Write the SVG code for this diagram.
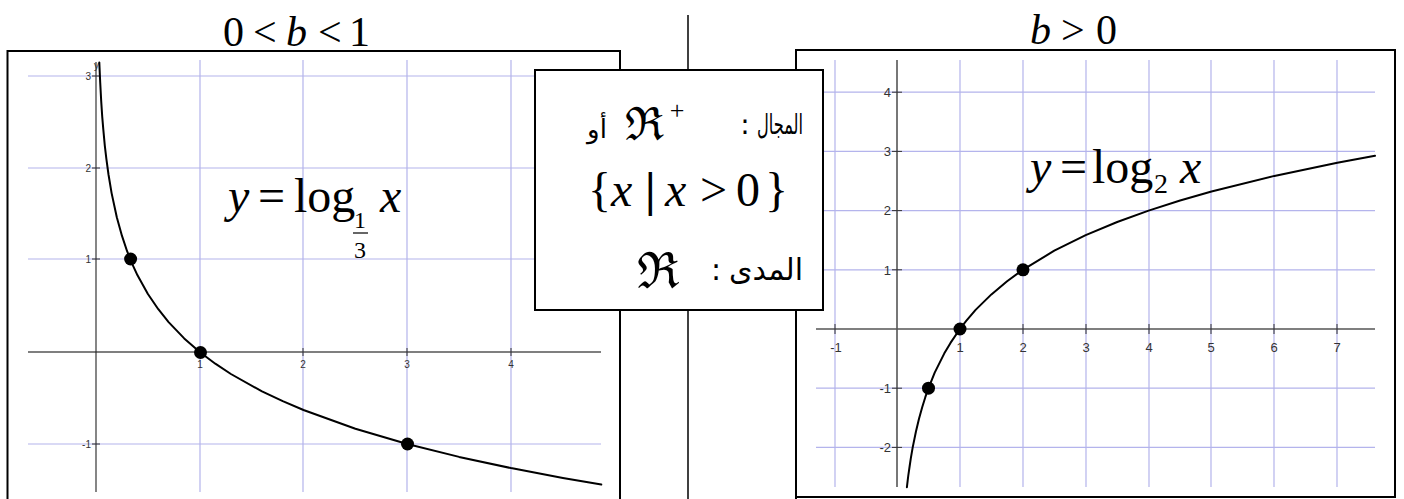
<svg xmlns="http://www.w3.org/2000/svg" width="1404" height="499" viewBox="0 0 1404 499">
<style>
.frame{fill:none;stroke:#000;stroke-width:2}
.grid{stroke:#b4b4ec;stroke-width:1.2;fill:none}
.xaxis{stroke:#555;stroke-width:1.6}
.yaxis{stroke:#222;stroke-width:1.1}
.tick{stroke:#333;stroke-width:1}
.curve{fill:none;stroke:#000;stroke-width:2;stroke-linejoin:round;stroke-linecap:round}
.pt{fill:#000}
.lblS{font-family:"Liberation Sans",Arial,sans-serif;font-size:10px;fill:#333}
.lblR{font-family:"Liberation Sans",Arial,sans-serif;font-size:13px;fill:#333}
.math{font-family:"Liberation Serif","Times New Roman",serif;fill:#000}
.it{font-style:italic}
.ar{font-family:"DejaVu Sans",sans-serif;fill:#000}
.frak{font-family:"DejaVu Serif",serif;fill:#000}
</style>
<rect width="1404" height="499" fill="#fff"/>

<g id="titles">
  <text class="math" font-size="42" y="46"><tspan x="223">0</tspan><tspan x="253">&lt;</tspan><tspan x="286" class="it">b</tspan><tspan x="318">&lt;</tspan><tspan x="349">1</tspan></text>
  <text class="math" font-size="42" y="44"><tspan x="1030" class="it">b</tspan><tspan x="1061">&gt;</tspan><tspan x="1096">0</tspan></text>
</g>

<g id="left-graph">
  <path class="frame" d="M7.5,499 V51 H620 V499"/>
  <g class="grid">
    <path d="M28,76H601M28,168H601M28,259H601M28,444H601"/>
    <path d="M200,60V492M303,60V492M407,60V492M511,60V492"/>
  </g>
  <line class="xaxis" x1="28" y1="352" x2="601" y2="352"/>
  <line class="yaxis" x1="96" y1="62" x2="96" y2="492"/>
  <g class="tick">
    <path d="M92,76H100M92,168H100M92,259H100M92,444H100"/>
    <path d="M200,348V356M303,348V356M407,348V356M511,348V356"/>
  </g>
  <g class="lblS" text-anchor="end">
    <text x="91" y="80">3</text>
    <text x="91" y="172">2</text>
    <text x="91" y="263">1</text>
    <text x="91" y="448">-1</text>
  </g>
  <g class="lblS" text-anchor="middle">
    <text x="200" y="368">1</text>
    <text x="303" y="368">2</text>
    <text x="407" y="368">3</text>
    <text x="511" y="368">4</text>
  </g>
  <text class="lblS" x="94" y="69">y</text>
  <polyline class="curve" points="99.3,62.4 100.2,82.4 101.2,101.1 102.2,116.4 103.3,129.3 104.8,145.6 106.4,159.2 108.5,174.5 111.6,193.1 116.8,217.2 122,235.9 127.1,251.2 132.3,264.1 137.5,275.3 147.9,294 158.3,309.2 168.6,322.1 184.2,338.4 199.75,352 215.3,363.7 230.9,374 262,391.4 282.75,401.2 303.5,410 355.4,428.7 407.25,444 459.1,456.9 511,468.1 562.9,477.9 601.3,484.6"/>
  <circle class="pt" cx="130.6" cy="259" r="6.5"/>
  <circle class="pt" cx="200.5" cy="352.5" r="6.5"/>
  <circle class="pt" cx="407.5" cy="444" r="6.5"/>
  <text class="math" font-size="48" y="212"><tspan x="228" class="it">y</tspan><tspan x="258">=</tspan><tspan x="294">log</tspan><tspan x="380" class="it">x</tspan></text>
  <text class="math" font-size="24" x="360" y="228" text-anchor="middle">1</text>
  <line x1="353" y1="233" x2="368" y2="233" stroke="#000" stroke-width="1.2"/>
  <text class="math" font-size="24" x="360" y="258" text-anchor="middle">3</text>
</g>

<g id="right-graph">
  <path class="frame" d="M796,499 V50 H1395 V497 H796" stroke-width="2.5"/>
  <g class="grid">
    <path d="M816,92.2H1375M816,151.4H1375M816,210.6H1375M816,269.8H1375M816,388.2H1375M816,447.4H1375"/>
    <path d="M835,60V487M960,60V487M1023,60V487M1086,60V487M1149,60V487M1211,60V487M1274,60V487M1337,60V487"/>
  </g>
  <line class="xaxis" x1="816" y1="329" x2="1375" y2="329"/>
  <line class="xaxis" x1="897" y1="60" x2="897" y2="487" stroke-width="1.3"/>
  <g class="tick">
    <path d="M892,92.2H902M892,151.4H902M892,210.6H902M892,269.8H902M892,388.2H902M892,447.4H902"/>
    <path d="M835,324V334M960,324V334M1023,324V334M1086,324V334M1149,324V334M1211,324V334M1274,324V334M1337,324V334"/>
  </g>
  <g class="lblR" text-anchor="end">
    <text x="891" y="97">4</text>
    <text x="891" y="156">3</text>
    <text x="891" y="215">2</text>
    <text x="891" y="275">1</text>
    <text x="891" y="393">-1</text>
    <text x="891" y="452">-2</text>
  </g>
  <g class="lblR" text-anchor="middle">
    <text x="836" y="352">-1</text>
    <text x="960" y="352">1</text>
    <text x="1023" y="352">2</text>
    <text x="1086" y="352">3</text>
    <text x="1149" y="352">4</text>
    <text x="1211" y="352">5</text>
    <text x="1274" y="352">6</text>
    <text x="1337" y="352">7</text>
  </g>
  <polyline class="curve" points="906.9,487.2 907.7,480.3 908.3,475.5 909.6,466.5 910.8,458.3 912.7,447.4 915.9,431.8 919,418.7 922.2,407.3 925.3,397.2 928.5,388.2 934.7,372.6 944.2,353.6 950.5,342.9 959.9,329 966.2,320.9 975.6,309.9 991.4,294.4 1007.1,281.2 1022.8,269.8 1054.3,250.7 1085.7,235.2 1117.2,222 1148.6,210.6 1180.1,200.5 1211.5,191.5 1274.4,175.9 1337.3,162.8 1375,155.8"/>
  <circle class="pt" cx="928.5" cy="388.2" r="6.5"/>
  <circle class="pt" cx="960" cy="329" r="6.5"/>
  <circle class="pt" cx="1023" cy="269.8" r="6.5"/>
  <text class="math" font-size="48" y="183"><tspan x="1030" class="it">y</tspan><tspan x="1060">=</tspan><tspan x="1092">log</tspan><tspan x="1180" class="it">x</tspan></text>
  <text class="math" font-size="28" x="1154" y="193">2</text>
</g>

<g id="divider">
  <line x1="688" y1="15" x2="688" y2="499" stroke="#000" stroke-width="1.5"/>
</g>

<g id="info-box">
  <rect x="535" y="70" width="288" height="240" fill="#fff" stroke="#000" stroke-width="2"/>
  <text class="ar" font-size="28" x="757" y="134" textLength="46" lengthAdjust="spacingAndGlyphs">المجال</text>
  <text class="ar" font-size="28" x="745" y="134" text-anchor="middle">:</text>
  <text class="frak" font-size="46" x="625" y="140">ℜ</text>
  <text class="math" font-size="26" x="677" y="119" text-anchor="middle">+</text>
  <text class="ar" font-size="26" x="597" y="138" text-anchor="middle">أو</text>
  <text class="math" font-size="48" y="206"><tspan x="588">{</tspan><tspan x="611" class="it">x</tspan><tspan x="645" font-weight="bold">|</tspan><tspan x="665" class="it">x</tspan><tspan x="700">&gt;</tspan><tspan x="736">0</tspan><tspan x="765">}</tspan></text>
  <text class="frak" font-size="50" x="637" y="288">ℜ</text>
  <text class="ar" font-size="30" x="716" y="280" text-anchor="middle">:</text>
  <text class="ar" font-size="30" x="803" y="280" text-anchor="end">المدى</text>
</g>
</svg>
